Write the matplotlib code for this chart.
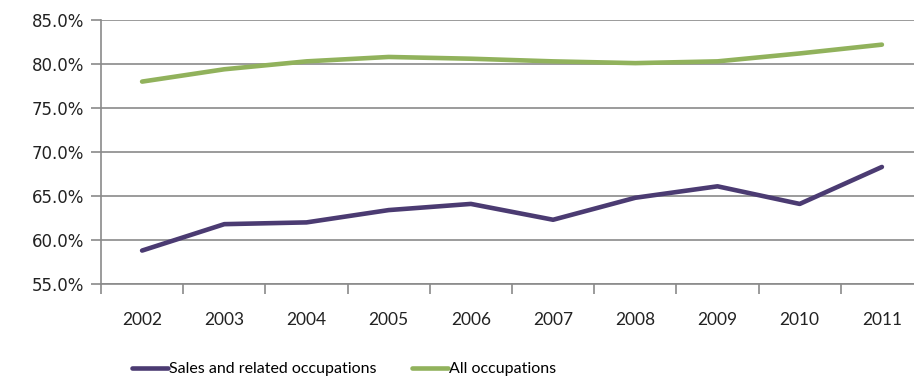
import matplotlib.pyplot as plt
from matplotlib.ticker import FuncFormatter, FixedLocator

years = ["2002", "2003", "2004", "2005", "2006", "2007", "2008", "2009", "2010", "2011"]
sales = [58.8, 61.8, 62.0, 63.4, 64.1, 62.3, 64.8, 66.1, 64.1, 68.3]
all_occ = [78.0, 79.4, 80.3, 80.8, 80.6, 80.3, 80.1, 80.3, 81.2, 82.2]

PURPLE = "#4b3b72"
GREEN = "#91b25c"
GRID = "#8a8a8a"
NARROW = ["Liberation Sans Narrow", "Lato", "DejaVu Sans"]

fig = plt.figure(figsize=(9.14, 3.81), dpi=100)
# axes run a little past the right edge, as in the cropped original
ax = fig.add_axes([101 / 914, 1 - 284 / 381, 822 / 914, 264 / 381])

x = list(range(len(years)))
ax.plot(x, sales, color=PURPLE, lw=3.3, solid_joinstyle="round", solid_capstyle="round",
        label="Sales and related occupations")
ax.plot(x, all_occ, color=GREEN, lw=3.3, solid_joinstyle="round", solid_capstyle="round",
        label="All occupations")

ax.set_xlim(-0.5, len(years) - 0.5)
ax.set_ylim(55, 85)
ax.set_yticks([55, 60, 65, 70, 75, 80, 85])
ax.yaxis.set_major_formatter(FuncFormatter(lambda v, p: f"{v:.1f}%"))
ax.yaxis.grid(True, color=GRID, lw=1.2)
ax.set_axisbelow(True)

ax.set_xticks(x)
ax.set_xticklabels(years, family=NARROW, fontsize=12.5, color="#222222")
ax.xaxis.set_minor_locator(FixedLocator([i + 0.5 for i in range(-1, len(years))]))
ax.tick_params(axis="x", which="major", length=0, pad=20)
ax.tick_params(axis="x", which="minor", length=7, width=1.2, color=GRID, direction="out")
ax.tick_params(axis="y", length=7, width=1.2, color=GRID, direction="out", pad=5,
               labelsize=12, labelcolor="#222222")

for side in ["top", "right"]:
    ax.spines[side].set_visible(False)
for side in ["left", "bottom"]:
    ax.spines[side].set_color(GRID)
    ax.spines[side].set_linewidth(1.2)

fig.legend(loc="center", bbox_to_anchor=(344 / 914, 1 - 369 / 381), ncol=2, frameon=False,
           prop={"family": NARROW, "size": 11.5}, handlelength=2.25, handletextpad=0.1,
           columnspacing=2.2, borderpad=0)

fig.savefig("out.png", dpi=100)
